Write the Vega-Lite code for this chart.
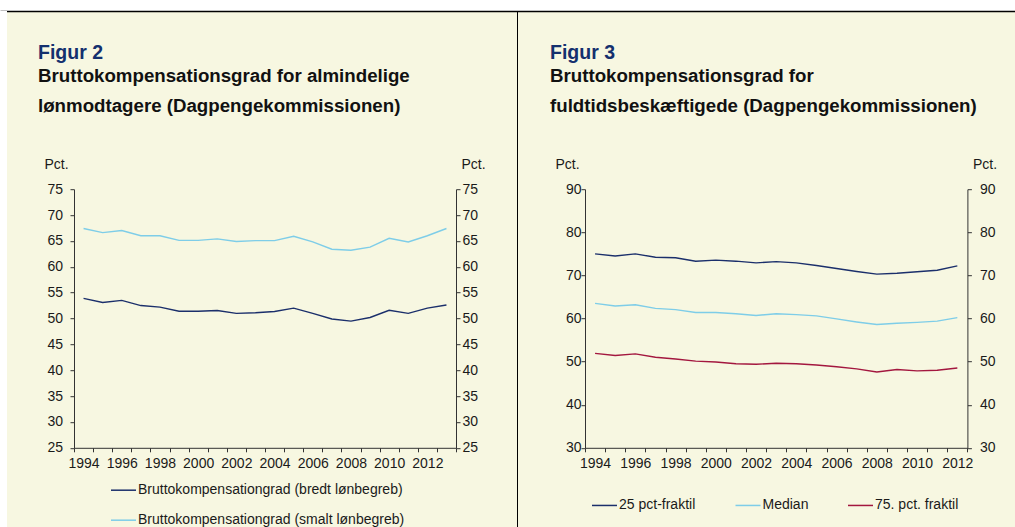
{
  "$schema": "https://vega.github.io/schema/vega-lite/v6.json",
  "background": "#F7F7E1",
  "autosize": {"type": "none"},
  "padding": {"left": 0, "top": 0, "right": 1015, "bottom": 527},
  "config": {
    "view": {"stroke": null},
    "font": "Liberation Sans",
    "axis": {
      "labelFont": "Liberation Sans", "labelFontSize": 14, "labelColor": "#1a1a1a",
      "titleFont": "Liberation Sans", "titleFontSize": 14, "titleFontWeight": "normal", "titleColor": "#1a1a1a",
      "domainColor": "#333333", "tickColor": "#333333", "tickSize": 4, "grid": false
    },
    "legend": {"labelFont": "Liberation Sans", "labelFontSize": 14, "labelColor": "#1a1a1a", "labelLimit": 0}
  },
  "datasets": {
    "fig2": [
      {"year": 1994, "series": "Bruttokompensationgrad (bredt lønbegreb)", "value": 53.9},
      {"year": 1995, "series": "Bruttokompensationgrad (bredt lønbegreb)", "value": 53.1},
      {"year": 1996, "series": "Bruttokompensationgrad (bredt lønbegreb)", "value": 53.5},
      {"year": 1997, "series": "Bruttokompensationgrad (bredt lønbegreb)", "value": 52.5},
      {"year": 1998, "series": "Bruttokompensationgrad (bredt lønbegreb)", "value": 52.2},
      {"year": 1999, "series": "Bruttokompensationgrad (bredt lønbegreb)", "value": 51.4},
      {"year": 2000, "series": "Bruttokompensationgrad (bredt lønbegreb)", "value": 51.4},
      {"year": 2001, "series": "Bruttokompensationgrad (bredt lønbegreb)", "value": 51.55},
      {"year": 2002, "series": "Bruttokompensationgrad (bredt lønbegreb)", "value": 51.0},
      {"year": 2003, "series": "Bruttokompensationgrad (bredt lønbegreb)", "value": 51.1},
      {"year": 2004, "series": "Bruttokompensationgrad (bredt lønbegreb)", "value": 51.35},
      {"year": 2005, "series": "Bruttokompensationgrad (bredt lønbegreb)", "value": 52.0},
      {"year": 2006, "series": "Bruttokompensationgrad (bredt lønbegreb)", "value": 51.0},
      {"year": 2007, "series": "Bruttokompensationgrad (bredt lønbegreb)", "value": 49.9},
      {"year": 2008, "series": "Bruttokompensationgrad (bredt lønbegreb)", "value": 49.5},
      {"year": 2009, "series": "Bruttokompensationgrad (bredt lønbegreb)", "value": 50.2},
      {"year": 2010, "series": "Bruttokompensationgrad (bredt lønbegreb)", "value": 51.6},
      {"year": 2011, "series": "Bruttokompensationgrad (bredt lønbegreb)", "value": 51.0},
      {"year": 2012, "series": "Bruttokompensationgrad (bredt lønbegreb)", "value": 52.0},
      {"year": 2013, "series": "Bruttokompensationgrad (bredt lønbegreb)", "value": 52.6},
      {"year": 1994, "series": "Bruttokompensationgrad (smalt lønbegreb)", "value": 67.4},
      {"year": 1995, "series": "Bruttokompensationgrad (smalt lønbegreb)", "value": 66.6},
      {"year": 1996, "series": "Bruttokompensationgrad (smalt lønbegreb)", "value": 67.0},
      {"year": 1997, "series": "Bruttokompensationgrad (smalt lønbegreb)", "value": 66.0},
      {"year": 1998, "series": "Bruttokompensationgrad (smalt lønbegreb)", "value": 66.0},
      {"year": 1999, "series": "Bruttokompensationgrad (smalt lønbegreb)", "value": 65.1},
      {"year": 2000, "series": "Bruttokompensationgrad (smalt lønbegreb)", "value": 65.1},
      {"year": 2001, "series": "Bruttokompensationgrad (smalt lønbegreb)", "value": 65.4},
      {"year": 2002, "series": "Bruttokompensationgrad (smalt lønbegreb)", "value": 64.9},
      {"year": 2003, "series": "Bruttokompensationgrad (smalt lønbegreb)", "value": 65.05},
      {"year": 2004, "series": "Bruttokompensationgrad (smalt lønbegreb)", "value": 65.05},
      {"year": 2005, "series": "Bruttokompensationgrad (smalt lønbegreb)", "value": 65.9},
      {"year": 2006, "series": "Bruttokompensationgrad (smalt lønbegreb)", "value": 64.8},
      {"year": 2007, "series": "Bruttokompensationgrad (smalt lønbegreb)", "value": 63.4},
      {"year": 2008, "series": "Bruttokompensationgrad (smalt lønbegreb)", "value": 63.2},
      {"year": 2009, "series": "Bruttokompensationgrad (smalt lønbegreb)", "value": 63.8},
      {"year": 2010, "series": "Bruttokompensationgrad (smalt lønbegreb)", "value": 65.5},
      {"year": 2011, "series": "Bruttokompensationgrad (smalt lønbegreb)", "value": 64.8},
      {"year": 2012, "series": "Bruttokompensationgrad (smalt lønbegreb)", "value": 66.0},
      {"year": 2013, "series": "Bruttokompensationgrad (smalt lønbegreb)", "value": 67.4}
    ],
    "fig3": [
      {"year": 1994, "series": "25 pct-fraktil", "value": 75.0},
      {"year": 1995, "series": "25 pct-fraktil", "value": 74.5},
      {"year": 1996, "series": "25 pct-fraktil", "value": 75.0},
      {"year": 1997, "series": "25 pct-fraktil", "value": 74.2},
      {"year": 1998, "series": "25 pct-fraktil", "value": 74.1},
      {"year": 1999, "series": "25 pct-fraktil", "value": 73.3},
      {"year": 2000, "series": "25 pct-fraktil", "value": 73.55},
      {"year": 2001, "series": "25 pct-fraktil", "value": 73.3},
      {"year": 2002, "series": "25 pct-fraktil", "value": 72.9},
      {"year": 2003, "series": "25 pct-fraktil", "value": 73.2},
      {"year": 2004, "series": "25 pct-fraktil", "value": 72.9},
      {"year": 2005, "series": "25 pct-fraktil", "value": 72.3},
      {"year": 2006, "series": "25 pct-fraktil", "value": 71.6},
      {"year": 2007, "series": "25 pct-fraktil", "value": 70.9},
      {"year": 2008, "series": "25 pct-fraktil", "value": 70.3},
      {"year": 2009, "series": "25 pct-fraktil", "value": 70.5},
      {"year": 2010, "series": "25 pct-fraktil", "value": 70.85},
      {"year": 2011, "series": "25 pct-fraktil", "value": 71.2},
      {"year": 2012, "series": "25 pct-fraktil", "value": 72.2},
      {"year": 1994, "series": "Median", "value": 63.5},
      {"year": 1995, "series": "Median", "value": 62.9},
      {"year": 1996, "series": "Median", "value": 63.2},
      {"year": 1997, "series": "Median", "value": 62.35},
      {"year": 1998, "series": "Median", "value": 62.05},
      {"year": 1999, "series": "Median", "value": 61.4},
      {"year": 2000, "series": "Median", "value": 61.4},
      {"year": 2001, "series": "Median", "value": 61.1},
      {"year": 2002, "series": "Median", "value": 60.7},
      {"year": 2003, "series": "Median", "value": 61.1},
      {"year": 2004, "series": "Median", "value": 60.9},
      {"year": 2005, "series": "Median", "value": 60.6},
      {"year": 2006, "series": "Median", "value": 59.9},
      {"year": 2007, "series": "Median", "value": 59.2},
      {"year": 2008, "series": "Median", "value": 58.6},
      {"year": 2009, "series": "Median", "value": 58.9},
      {"year": 2010, "series": "Median", "value": 59.1},
      {"year": 2011, "series": "Median", "value": 59.4},
      {"year": 2012, "series": "Median", "value": 60.2},
      {"year": 1994, "series": "75. pct. fraktil", "value": 51.9},
      {"year": 1995, "series": "75. pct. fraktil", "value": 51.4},
      {"year": 1996, "series": "75. pct. fraktil", "value": 51.8},
      {"year": 1997, "series": "75. pct. fraktil", "value": 51.0},
      {"year": 1998, "series": "75. pct. fraktil", "value": 50.6},
      {"year": 1999, "series": "75. pct. fraktil", "value": 50.1},
      {"year": 2000, "series": "75. pct. fraktil", "value": 49.9},
      {"year": 2001, "series": "75. pct. fraktil", "value": 49.5},
      {"year": 2002, "series": "75. pct. fraktil", "value": 49.4},
      {"year": 2003, "series": "75. pct. fraktil", "value": 49.6},
      {"year": 2004, "series": "75. pct. fraktil", "value": 49.5},
      {"year": 2005, "series": "75. pct. fraktil", "value": 49.2},
      {"year": 2006, "series": "75. pct. fraktil", "value": 48.8},
      {"year": 2007, "series": "75. pct. fraktil", "value": 48.3},
      {"year": 2008, "series": "75. pct. fraktil", "value": 47.6},
      {"year": 2009, "series": "75. pct. fraktil", "value": 48.15},
      {"year": 2010, "series": "75. pct. fraktil", "value": 47.85},
      {"year": 2011, "series": "75. pct. fraktil", "value": 48.0},
      {"year": 2012, "series": "75. pct. fraktil", "value": 48.5}
    ]
  },
  "spacing": 0,
  "bounds": "flush",
  "vconcat": [
    {
      "width": 1015, "height": 11,
      "view": {"fill": "white", "stroke": null},
      "data": {"values": [{"v": 0}]},
      "mark": {"type": "point", "opacity": 0},
      "encoding": {
        "x": {"field": "v", "type": "quantitative", "scale": {"domain": [0, 1]},
              "axis": {"domainColor": "black", "domainWidth": 1.5, "ticks": false, "labels": false, "title": null}}
      }
    },
    {
      "spacing": 0,
      "bounds": "flush",
      "center": true,
      "resolve": {"scale": {"color": "independent"}, "legend": {"color": "independent"}},
      "hconcat": [
        {"width": 7, "height": 615, "view": {"fill": "white", "stroke": null}, "data": {"values": []}, "mark": "point", "encoding": {}},
        {"width": 66.3, "height": 0, "data": {"values": []}, "mark": "point", "encoding": {}},
        {
          "width": 382, "height": 258.6,
          "title": {
            "text": "Figur 2",
            "subtitle": ["Bruttokompensationsgrad for almindelige", "lønmodtagere (Dagpengekommissionen)"],
            "anchor": "start", "frame": "group", "dx": -36, "offset": 41,
            "font": "Liberation Sans", "fontSize": 19.5, "fontWeight": "bold", "color": "#14306E",
            "subtitleFont": "Liberation Sans", "subtitleFontSize": 18.7, "subtitleFontWeight": "bold",
            "subtitleColor": "#111111", "subtitleLineHeight": 30, "subtitlePadding": 3
          },
          "data": {"name": "fig2"},
          "encoding": {
            "x": {
              "field": "year", "type": "ordinal", "bandPosition": 0.5,
              "scale": {"type": "band", "paddingInner": 0, "paddingOuter": 0},
              "axis": {"title": null, "labelAngle": 0, "labelOverlap": false,
                       "labelExpr": "datum.value % 2 == 0 ? datum.label : ''",
                       "tickBand": "extent", "labelPadding": 5}
            }
          },
          "layer": [
            {
              "mark": {"type": "line", "strokeWidth": 1.4},
              "encoding": {
                "y": {"field": "value", "type": "quantitative", "scale": {"domain": [25, 75], "nice": false, "zero": false},
                      "axis": {"orient": "left", "values": [25,30,35,40,45,50,55,60,65,70,75], "labelPadding": 7.5,
                               "title": "Pct.", "titleAngle": 0, "titleAlign": "left", "titleBaseline": "alphabetic", "titleX": -30, "titleY": -21}},
                "color": {"field": "series", "type": "nominal",
                          "scale": {"domain": ["Bruttokompensationgrad (bredt lønbegreb)", "Bruttokompensationgrad (smalt lønbegreb)"], "range": ["#1B2F6B", "#7ECDE8"]},
                          "legend": {"orient": "none", "legendX": 36, "legendY": 287.5, "direction": "vertical", "title": null,
                                     "symbolType": "stroke", "symbolSize": 625, "symbolStrokeWidth": 1.5, "labelOffset": 1, "rowPadding": 9}}
              }
            },
            {
              "mark": {"type": "line", "opacity": 0},
              "encoding": {
                "detail": {"field": "series", "type": "nominal"},
                "y": {"field": "value", "type": "quantitative", "scale": {"domain": [25, 75], "nice": false, "zero": false},
                      "axis": {"orient": "right", "values": [25,30,35,40,45,50,55,60,65,70,75], "labelPadding": 2,
                               "title": "Pct.", "titleAngle": 0, "titleAlign": "left", "titleBaseline": "alphabetic", "titleX": 5, "titleY": -21}}
              }
            }
          ],
          "resolve": {"scale": {"y": "independent"}}
        },
        {"width": 60.7, "height": 0, "data": {"values": []}, "mark": "point", "encoding": {}},
        {"width": 1, "height": 615, "view": {"fill": "black", "stroke": null}, "data": {"values": []}, "mark": "point", "encoding": {}},
        {"width": 66.3, "height": 0, "data": {"values": []}, "mark": "point", "encoding": {}},
        {
          "width": 382.4, "height": 258.6,
          "title": {
            "text": "Figur 3",
            "subtitle": ["Bruttokompensationsgrad for", "fuldtidsbeskæftigede (Dagpengekommissionen)"],
            "anchor": "start", "frame": "group", "dx": -35, "offset": 41,
            "font": "Liberation Sans", "fontSize": 19.5, "fontWeight": "bold", "color": "#14306E",
            "subtitleFont": "Liberation Sans", "subtitleFontSize": 18.7, "subtitleFontWeight": "bold",
            "subtitleColor": "#111111", "subtitleLineHeight": 30, "subtitlePadding": 3
          },
          "data": {"name": "fig3"},
          "encoding": {
            "x": {
              "field": "year", "type": "ordinal", "bandPosition": 0.5,
              "scale": {"type": "band", "paddingInner": 0, "paddingOuter": 0},
              "axis": {"title": null, "labelAngle": 0, "labelOverlap": false,
                       "labelExpr": "datum.value % 2 == 0 ? datum.label : ''",
                       "tickBand": "extent", "labelPadding": 5}
            }
          },
          "layer": [
            {
              "mark": {"type": "line", "strokeWidth": 1.4},
              "encoding": {
                "y": {"field": "value", "type": "quantitative", "scale": {"domain": [30, 90], "nice": false, "zero": false},
                      "axis": {"orient": "left", "values": [30,40,50,60,70,80,90], "labelPadding": 0,
                               "title": "Pct.", "titleAngle": 0, "titleAlign": "left", "titleBaseline": "alphabetic", "titleX": -30, "titleY": -21}},
                "color": {"field": "series", "type": "nominal",
                          "scale": {"domain": ["25 pct-fraktil", "Median", "75. pct. fraktil"], "range": ["#1B2F6B", "#7ECDE8", "#A3173F"]},
                          "legend": {"orient": "none", "legendX": 6, "legendY": 302.5, "direction": "horizontal", "title": null,
                                     "symbolType": "stroke", "symbolSize": 625, "symbolStrokeWidth": 1.5, "labelOffset": 1, "columnPadding": 36.5}}
              }
            },
            {
              "mark": {"type": "line", "opacity": 0},
              "encoding": {
                "detail": {"field": "series", "type": "nominal"},
                "y": {"field": "value", "type": "quantitative", "scale": {"domain": [30, 90], "nice": false, "zero": false},
                      "axis": {"orient": "right", "values": [30,40,50,60,70,80,90], "labelPadding": 8,
                               "title": "Pct.", "titleAngle": 0, "titleAlign": "left", "titleBaseline": "alphabetic", "titleX": 5, "titleY": -21}}
              }
            }
          ],
          "resolve": {"scale": {"y": "independent"}}
        },
        {"width": 47.3, "height": 0, "data": {"values": []}, "mark": "point", "encoding": {}},
        {"width": 1, "height": 615, "view": {"fill": "black", "stroke": null}, "data": {"values": []}, "mark": "point", "encoding": {}}
      ]
    }
  ]
}
